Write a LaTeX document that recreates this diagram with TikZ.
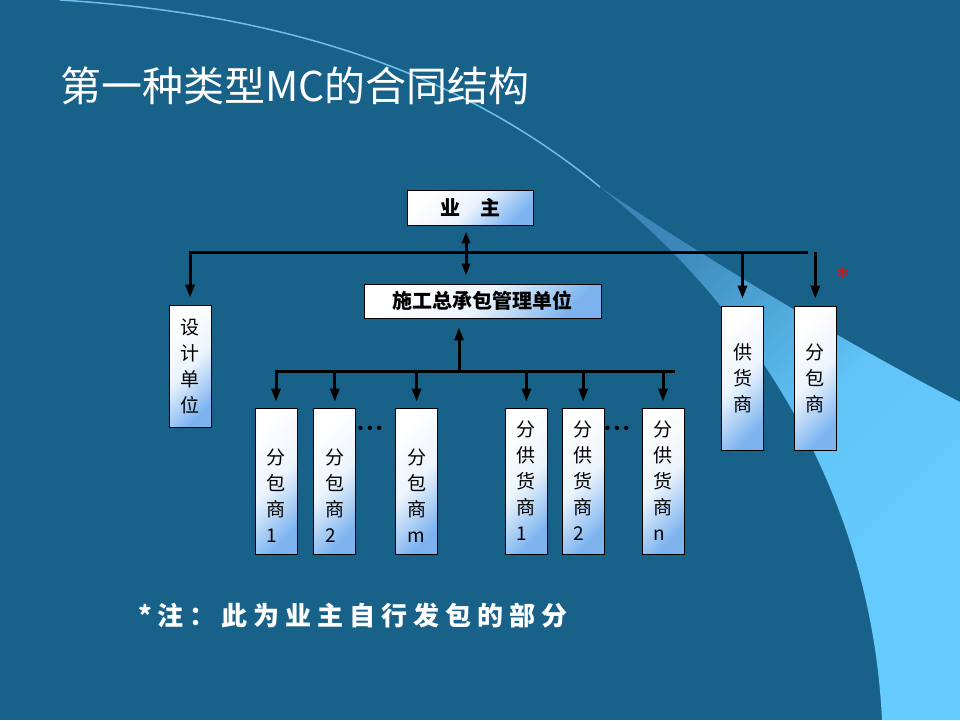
\documentclass[tikz,border=0pt]{standalone}
\usepackage{fontspec}
\usepackage{tikz}
\usetikzlibrary{shapes, arrows, arrows.meta, positioning}
\newfontfamily\cjk{Noto Sans CJK SC}
\newfontfamily\cjknote{Noto Sans CJK SC}[LetterSpace=23]
\definecolor{bgblue}{RGB}{24,98,138}
\definecolor{swlight}{RGB}{102,204,255}
\definecolor{swdark}{RGB}{60,135,185}
\definecolor{swline}{RGB}{110,190,235}
\definecolor{boxblue}{RGB}{125,180,240}
\tikzset{
  hbox/.style={draw=black, line width=0.8pt, top color=white, bottom color=boxblue, middle color=white!85!boxblue, shading angle=45, inner sep=0pt, font=\cjk\bfseries\fontsize{20}{24}\selectfont},
  vbox/.style={hbox, minimum width=42pt, minimum height=146pt, align=left, font=\cjk\fontsize{19}{26}\selectfont},
  bus/.style={line width=3pt},
  arr/.style={line width=3pt, -{Triangle[length=13pt,width=9pt]}, shorten >=7pt},
  dbl/.style={line width=3pt, {Triangle[length=12pt,width=8pt]}-{Triangle[length=12pt,width=8pt]}, shorten <=6pt, shorten >=8pt},
  dots/.style={inner sep=0pt, font=\bfseries\fontsize{30}{30}\selectfont}
}
\begin{document}
\begin{tikzpicture}[x=1pt,y=-1pt]
\useasboundingbox (0,0) rectangle (960,720);
\fill[bgblue] (0,0) rectangle (960,720);
\shade[top color=swdark, bottom color=swlight, middle color=swlight!90!swdark, shading angle=45]
  (600,187) .. controls (700,255) and (840,340) .. (960,402) -- (960,720) -- (882,720)
  .. controls (870,470) and (730,290) .. (600,187) -- cycle;
\draw[swline, line width=1.5pt] (60,0) .. controls (300,15) and (470,80) .. (600,187);

\node[anchor=base west, inner sep=0pt, text=white, font=\cjk\fontsize{41}{50}\selectfont] (title) at (60,101) {第一种类型MC的合同结构};

\node[hbox, minimum width=126pt, minimum height=35pt] (owner) at (470,207.5) {业　主};
\node[hbox, minimum width=237pt, minimum height=34pt] (pm) at (482.5,301) {施工总承包管理单位};
\node[vbox, minimum height=122pt] (design) at (190,366) {设\\计\\单\\位};
\node[vbox, minimum height=144pt] (supp) at (742.5,378) {供\\货\\商};
\node[vbox, minimum height=144pt] (subR) [right=30pt of supp] {分\\包\\商};

\node[vbox] (sub1) at (276,481) {\strut\\分\\包\\商\\1};
\node[vbox] (sub2) [right=16pt of sub1] {\strut\\分\\包\\商\\2};
\node[vbox] (subm) [right=39pt of sub2] {\strut\\分\\包\\商\\m};
\node[vbox] (sup1) [right=67pt of subm] {分\\供\\货\\商\\1};
\node[vbox] (sup2) [right=14pt of sup1] {分\\供\\货\\商\\2};
\node[vbox] (supn) [right=37pt of sup2] {分\\供\\货\\商\\n};

\node[dots] (dots1) at (370,428) {...};
\node[dots] (dots2) at (617,428) {...};
\node[inner sep=0pt, text=red, font=\bfseries\fontsize{24}{24}\selectfont] (star) at (843,276) {*};

\coordinate (busL) at (188.5,252);
\coordinate (busR) at (808,252);
\coordinate (lowL) at (274.5,371);
\coordinate (lowR) at (675,371);
\coordinate (ownx) at (466,252);
\coordinate (upx) at (459,371);

\draw[bus] (busL) -- (busR);
\draw[bus] (lowL) -- (lowR);
\draw[arr] (design.north |- busL) -- (design.north);
\draw[arr] (supp.north |- busL) -- (supp.north);
\draw[arr] (subR.north |- busR) -- (subR.north);
\draw[dbl] (owner.south -| ownx) -- (pm.north -| ownx);
\draw[arr, shorten >=9pt] (upx) -- (pm.south -| upx);
\foreach \n in {sub1,sub2,subm,sup1,sup2,supn}
  \draw[arr, shorten >=6pt] (\n.north |- lowL) -- (\n.north);

\node[anchor=base west, inner sep=0pt, text=white, font=\cjknote\bfseries\fontsize{26}{30}\selectfont] (note) at (138,625) {*注：此为业主自行发包的部分};
\end{tikzpicture}
\end{document}
